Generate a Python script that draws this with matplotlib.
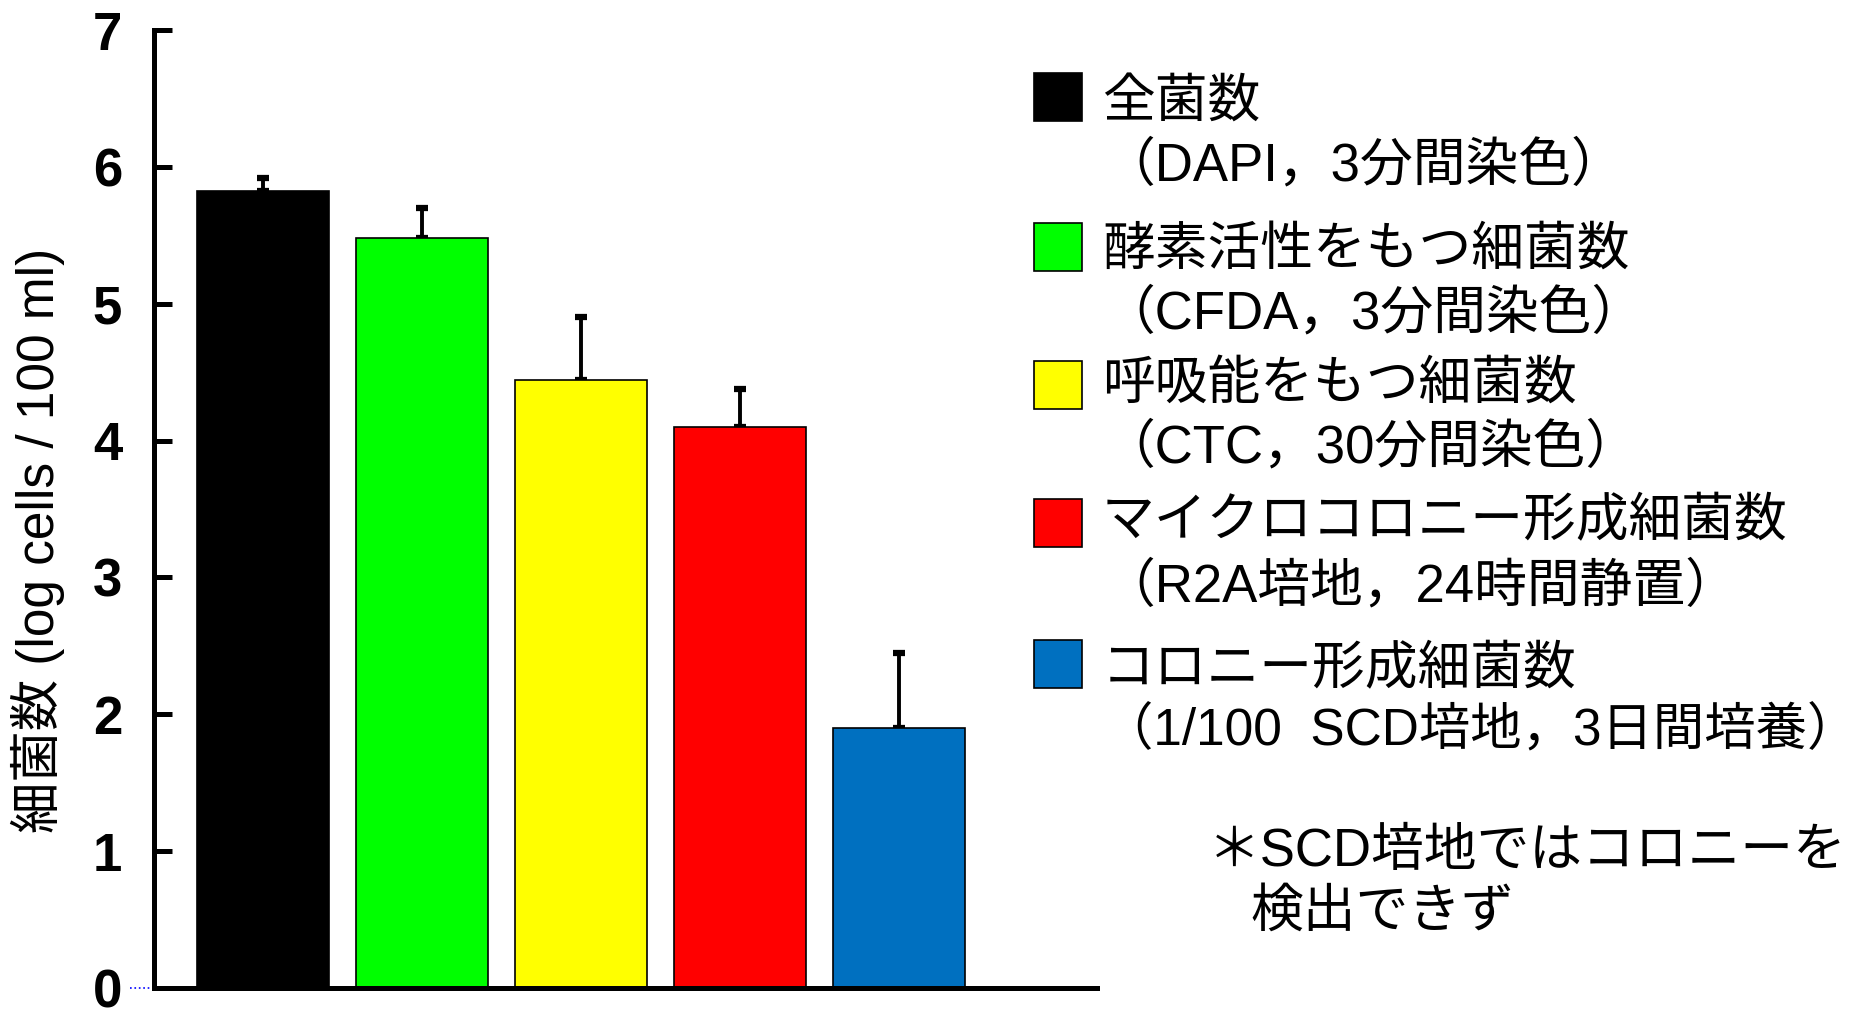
import matplotlib
matplotlib.use("Agg")
import matplotlib.pyplot as plt
from matplotlib.patches import Rectangle

plt.rcParams['font.family'] = ['Liberation Sans', 'Noto Sans CJK JP', 'DejaVu Sans']

# data
means = [5.82, 5.48, 4.44, 4.10, 1.90]
errs = [0.10, 0.22, 0.46, 0.28, 0.55]
colors = ['#000000', '#00ff00', '#ffff00', '#ff0000', '#0070c0']
names = ['全菌数', '酵素活性をもつ細菌数', '呼吸能をもつ細菌数',
         'マイクロコロニー形成細菌数', 'コロニー形成細菌数']
methods = ['（DAPI，3分間染色）', '（CFDA，3分間染色）', '（CTC，30分間染色）',
           '（R2A培地，24時間静置）', '（1/100  SCD培地，3日間培養）']
yticks = [0, 1, 2, 3, 4, 5, 6, 7]
note = ['＊SCD培地ではコロニーを', '検出できず']

W, H = 1860, 1010
fig = plt.figure(figsize=(W / 100, H / 100), dpi=100)
ax = fig.add_axes([154 / W, 1 - 988 / H, 943 / W, 958 / H])

xs = list(range(len(means)))
ax.bar(xs, means, width=0.83, color=colors, edgecolor='black', linewidth=1.2, zorder=2)
ax.errorbar(xs, means, yerr=[[0] * len(errs), errs], fmt='none', ecolor='black',
            elinewidth=2.8, capsize=4, capthick=4.5, zorder=1)

ax.set_xlim(-0.686, 5.245)
ax.set_ylim(0, 7)
ax.set_yticks(yticks)
ax.set_yticklabels([str(t) for t in yticks], fontsize=38, fontweight='bold')
ax.tick_params(axis='y', direction='in', length=13, width=3.6, pad=23)
ax.set_xticks([])
for s in ['top', 'right']:
    ax.spines[s].set_visible(False)
ax.spines['left'].set_linewidth(3.6)
ax.spines['bottom'].set_linewidth(3.6)

# small dotted mark left of the zero line
ax.plot([-0.84, -0.70], [0, 0], ':', color='blue', lw=1.2, clip_on=False)

fig.text(38 / W, 1 - 540 / H, '細菌数 (log cells / 100 ml)', rotation=90,
         ha='center', va='center', fontsize=37)

# legend drawn by hand: colour square + two text lines
patch_y = [97, 247, 385, 523, 664]
line1_y = [103, 251, 385, 522, 670]
line2_y = [166, 314, 448, 587, 732]
for i in range(len(names)):
    fig.add_artist(Rectangle((1034 / W, 1 - (patch_y[i] + 24) / H), 48 / W, 48 / H,
                             transform=fig.transFigure, facecolor=colors[i],
                             edgecolor='black', linewidth=1.2))
    fig.text(1102 / W, 1 - line1_y[i] / H, names[i], ha='left', va='center', fontsize=38)
    size2 = 37 if i == len(names) - 1 else 38
    fig.text(1102 / W, 1 - line2_y[i] / H, methods[i], ha='left', va='center', fontsize=size2)

fig.text(1208 / W, 1 - 852 / H, note[0], ha='left', va='center', fontsize=38)
fig.text(1250 / W, 1 - 913 / H, note[1], ha='left', va='center', fontsize=38)

fig.savefig('out.png', dpi=100)
